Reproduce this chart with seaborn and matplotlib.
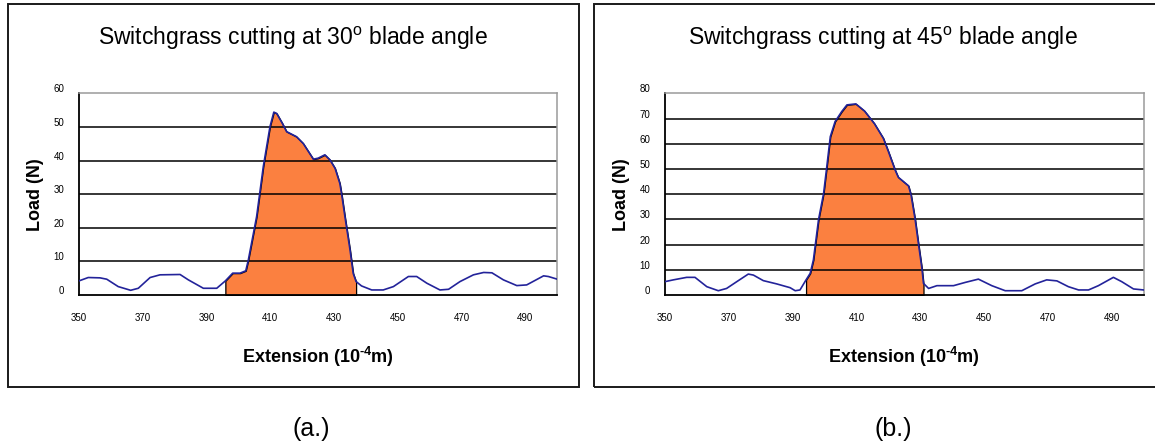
import numpy as np
import pandas as pd
import matplotlib
matplotlib.use("Agg")
import matplotlib.pyplot as plt
import matplotlib.transforms as mtransforms
from matplotlib.patches import Rectangle
from matplotlib.ticker import MultipleLocator
import seaborn as sns

# ---------------- data ----------------
ext_30 = [350.0, 352.9, 356.6, 358.7, 362.3, 366.2, 368.6, 372.3, 375.4, 381.7, 384.3,
          389.0, 393.2, 395.9, 398.2, 400.5, 402.3, 403.1, 405.7, 407.8, 409.9, 411.1,
          412.0, 413.8, 415.1, 418.2, 420.3, 423.5, 425.0, 427.1, 428.7, 430.3, 431.8,
          432.4, 433.4, 435.0, 436.0, 436.9, 438.6, 441.8, 445.4, 448.6, 453.3, 455.9,
          459.1, 463.2, 465.9, 469.5, 473.7, 476.9, 479.5, 483.1, 487.3, 490.4, 495.7,
          497.2, 500.0]
load_30 = [4.2, 5.2, 5.1, 4.7, 2.5, 1.4, 2.0, 5.2, 6.0, 6.1, 4.5,
           2.0, 2.0, 4.2, 6.5, 6.5, 7.2, 10.4, 23.3, 38.2, 50.1, 54.4,
           54.0, 51.0, 48.6, 47.1, 45.1, 40.4, 40.7, 41.7, 40.2, 37.7, 33.2,
           29.8, 23.3, 13.4, 6.4, 4.0, 2.7, 1.5, 1.5, 2.5, 5.5, 5.5,
           3.5, 1.5, 1.7, 4.0, 6.0, 6.7, 6.6, 4.5, 2.8, 3.0, 5.7,
           5.5, 4.7]
cut_30 = [395.9, 436.9]

ext_45 = [350.0, 352.6, 356.8, 359.4, 363.1, 366.7, 369.3, 372.5, 376.1, 377.7, 380.8,
          385.0, 389.2, 390.8, 392.3, 394.2, 395.5, 396.5, 398.1, 399.7, 400.7, 401.8,
          403.3, 405.4, 407.0, 409.8, 412.5, 415.6, 418.4, 420.0, 422.1, 423.1, 426.3,
          427.1, 428.4, 429.4, 430.5, 431.0, 432.6, 435.2, 440.4, 444.1, 448.2, 452.4,
          456.6, 461.8, 466.0, 469.6, 472.8, 476.4, 479.6, 482.7, 485.8, 490.5, 493.1,
          496.8, 500.0]
load_45 = [5.3, 6.0, 7.0, 7.0, 3.3, 1.7, 2.6, 5.3, 8.3, 7.9, 5.7,
           4.4, 2.9, 1.7, 2.0, 6.0, 8.6, 13.9, 29.8, 40.3, 50.9, 62.8,
           68.8, 72.8, 75.4, 75.8, 73.0, 68.0, 62.2, 56.9, 49.6, 46.7, 43.3,
           39.7, 29.8, 20.5, 10.6, 4.6, 2.6, 3.7, 3.7, 5.0, 6.3, 3.7,
           1.7, 1.7, 4.4, 6.0, 5.6, 3.3, 2.0, 2.0, 3.7, 7.0, 5.3,
           2.4, 2.0]
cut_45 = [394.2, 431.0]

titles = [r"Switchgrass cutting at 30$^{\mathrm{o}}$ blade angle",
          r"Switchgrass cutting at 45$^{\mathrm{o}}$ blade angle"]
captions = ["(a.)", "(b.)"]
y_max = [60, 80]
x_ticks = [350, 370, 390, 410, 430, 450, 470, 490]
x_range = [350, 500]
x_label = "Extension (10$^{\\mathbf{\u2010}\\mathbf{4}}$m)"
y_label = "Load (N)"

# ---------------- style ----------------
sns.set_style("white")
plt.rcParams["font.family"] = ["Liberation Sans", "DejaVu Sans"]
plt.rcParams["mathtext.fontset"] = "custom"
plt.rcParams["mathtext.rm"] = "Liberation Sans"
plt.rcParams["mathtext.bf"] = "Liberation Sans:bold"
plt.rcParams["mathtext.it"] = "Liberation Sans:italic"
plt.rcParams["text.color"] = "black"
plt.rcParams["axes.labelcolor"] = "black"
plt.rcParams["xtick.color"] = "black"
plt.rcParams["ytick.color"] = "black"

W, H = 1155, 444
fig = plt.figure(figsize=(W / 100, H / 100), dpi=100)
fig.patch.set_facecolor("white")

LINE = "#23239A"
FILL = "#FB8040"


def px_axes(x0, x1, ytop, ybot):
    return [x0 / W, 1 - ybot / H, (x1 - x0) / W, (ybot - ytop) / H]


panels = [
    dict(ext=ext_30, load=load_30, cut=cut_30, ymax=y_max[0], title=titles[0], cap=captions[0],
         ax=px_axes(79, 557.3, 93.3, 295), box=(7.5, 4.3, 579, 387.3), tx=293.3, cx=311),
    dict(ext=ext_45, load=load_45, cut=cut_45, ymax=y_max[1], title=titles[1], cap=captions[1],
         ax=px_axes(665, 1143.7, 93.3, 295), box=(594, 4.3, 1172, 387.3), tx=883, cx=893),
]

for p in panels:
    ax = fig.add_axes(p["ax"])
    df = pd.DataFrame({"ext": p["ext"], "load": p["load"]})
    x = np.array(p["ext"])
    y = np.array(p["load"])
    mask = (x >= p["cut"][0]) & (x <= p["cut"][1])
    ax.fill_between(x, 0, y, where=mask, facecolor=FILL, edgecolor="black",
                    linewidth=0.9, zorder=1)
    # interior horizontal gridlines
    for v in range(10, p["ymax"], 10):
        ax.axhline(v, color="black", linewidth=1.1, zorder=1.5)
    sns.lineplot(data=df, x="ext", y="load", ax=ax, color=LINE, linewidth=1.2,
                 estimator=None, sort=False, zorder=3)
    ax.set_xlim(*x_range)
    ax.set_ylim(0, p["ymax"])
    ax.set_xticks(x_ticks)
    ax.xaxis.set_minor_locator(MultipleLocator(4))
    ax.yaxis.set_major_locator(MultipleLocator(10))
    ax.yaxis.set_minor_locator(MultipleLocator(2))
    ax.tick_params(axis="both", which="both", direction="in", colors="black",
                   labelsize=7, width=0.8)
    ax.tick_params(axis="x", which="major", length=3.5, pad=13)
    ax.tick_params(axis="x", which="minor", length=3)
    ax.tick_params(axis="y", which="major", length=3.5, pad=10.5)
    ax.tick_params(axis="y", which="minor", length=2.5)
    ax.tick_params(top=False, right=False, which="both")
    off = mtransforms.ScaledTranslation(0, 5 / 100, fig.dpi_scale_trans)
    for lab in ax.get_yticklabels():
        lab.set_transform(lab.get_transform() + off)
    for side in ["left", "bottom"]:
        ax.spines[side].set_color("black")
        ax.spines[side].set_linewidth(1.3)
    for side in ["top", "right"]:
        ax.spines[side].set_color("#9A9A9A")
        ax.spines[side].set_linewidth(1.1)
    ax.set_xlabel(x_label, fontsize=13, fontweight="bold", color="black")
    ax.set_ylabel(y_label, fontsize=13, fontweight="bold", color="black")
    ax.xaxis.label.set_va("center")
    ax.yaxis.label.set_va("center")
    ax.xaxis.set_label_coords(0.5, -62 / 201.7)
    ax.yaxis.set_label_coords(-43.7 / 478.3, 0.5)

    x0, y0, x1, y1 = p["box"]
    fig.add_artist(Rectangle((x0 / W, 1 - y1 / H), (x1 - x0) / W, (y1 - y0) / H,
                             transform=fig.transFigure, fill=False,
                             edgecolor="#1A1A1A", linewidth=1.4, zorder=0))
    fig.text(p["tx"] / W, 1 - 45 / H, p["title"], ha="center", va="baseline",
             fontsize=16.5, color="black")
    fig.text(p["cx"] / W, 1 - 428.5 / H, p["cap"], ha="center", va="center",
             fontsize=18, color="black")

fig.savefig("out.png", dpi=100, facecolor="white")
